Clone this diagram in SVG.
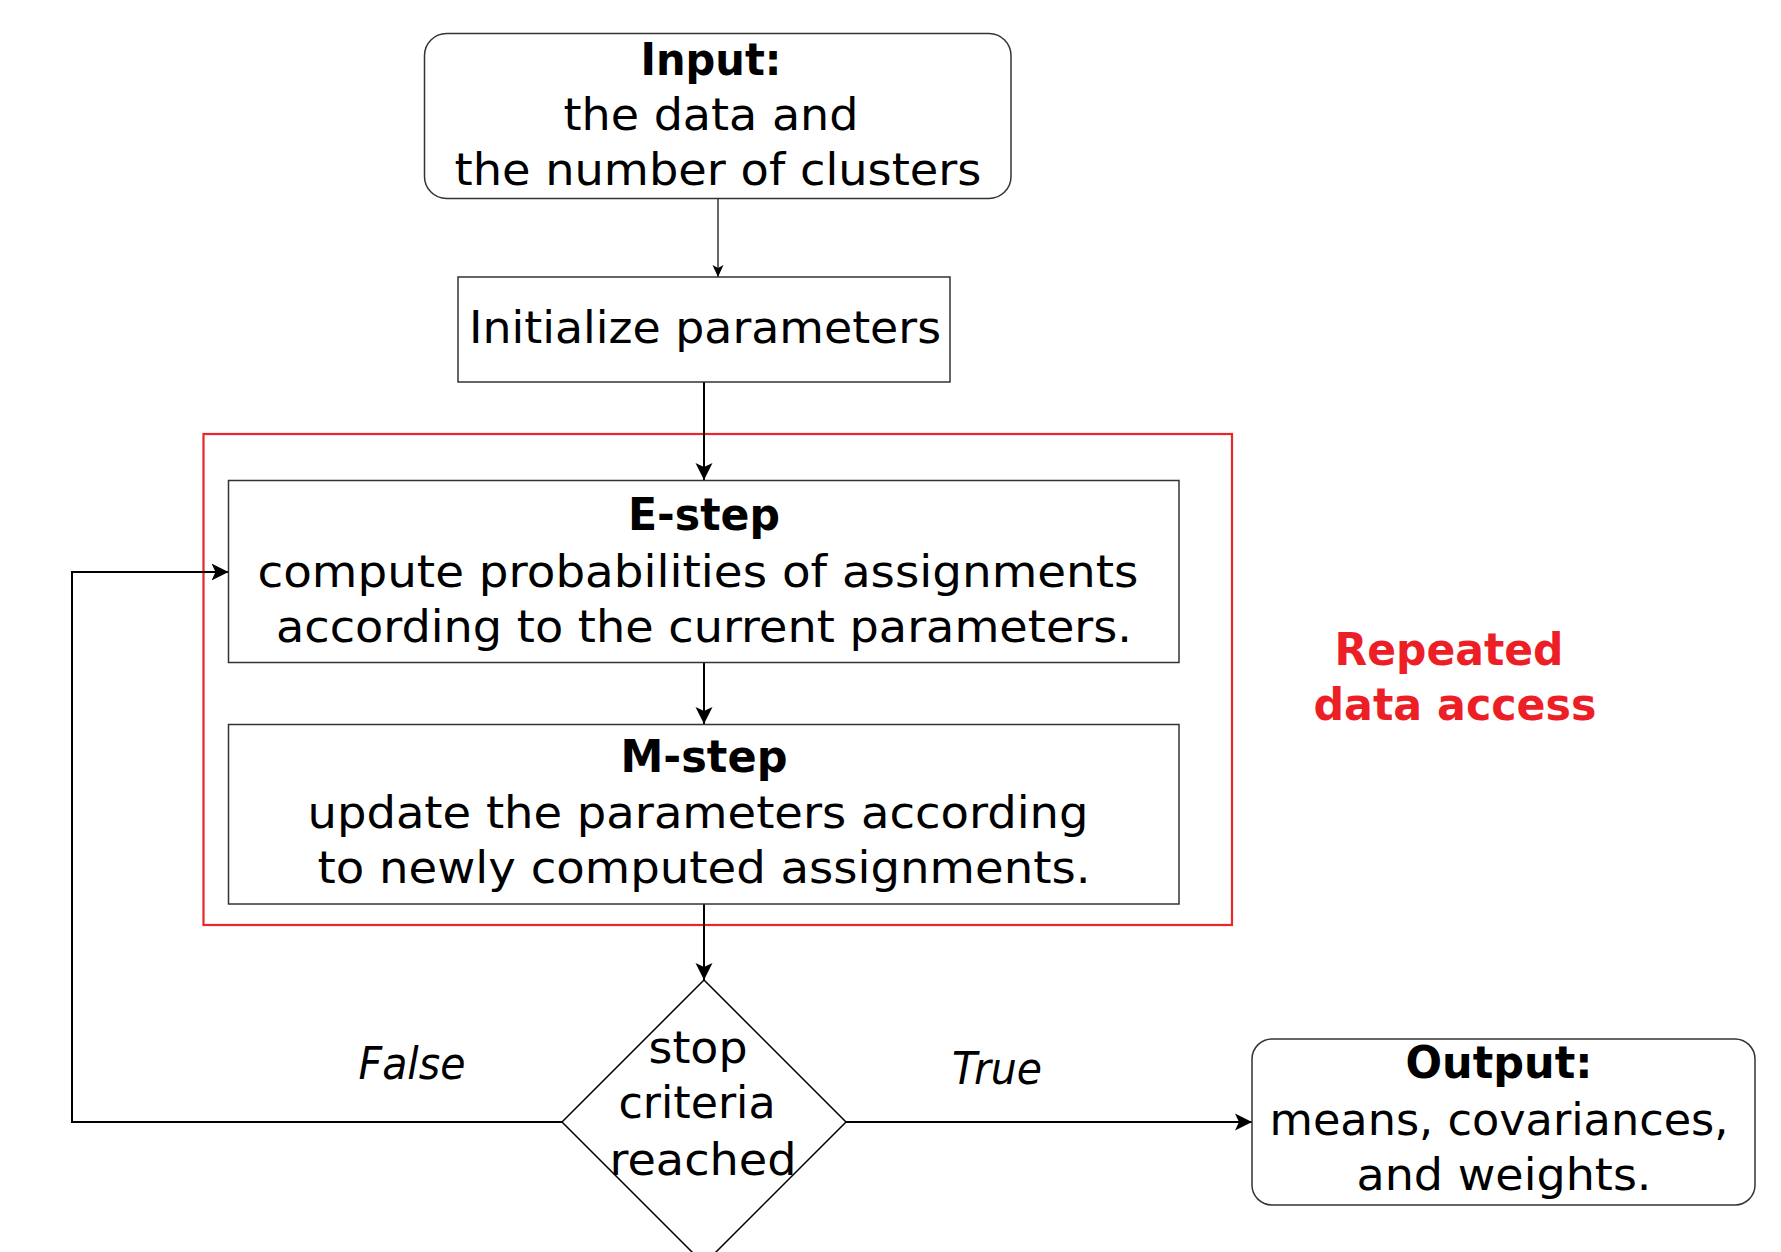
<svg xmlns="http://www.w3.org/2000/svg" width="1781" height="1252" viewBox="0 0 1781 1252">
<style>
  .box { fill: #fff; stroke: #333; stroke-width: 1.5; }
  .t { font-family: "DejaVu Sans", "Liberation Sans", sans-serif; font-size: 44px; fill: #000; text-anchor: middle; }
  .b { font-weight: bold; }
  .i { font-style: italic; }
  .red { fill: #ED1F26; font-weight: bold; }
  .con { fill: none; stroke: #000; stroke-width: 2; }
  .thin { stroke-width: 1.2; }
</style>
<defs>
  <marker id="arrow" viewBox="0 0 20 20" markerWidth="20" markerHeight="20" refX="17" refY="10" orient="auto" markerUnits="userSpaceOnUse">
    <path d="M0,1.5 L17,10 L0,18.5 L4,10 Z" fill="#000"/>
  </marker>
  <marker id="arrowS" viewBox="0 0 14 14" markerWidth="14" markerHeight="14" refX="12" refY="7" orient="auto" markerUnits="userSpaceOnUse">
    <path d="M0,1.5 L12,7 L0,12.5 L3,7 Z" fill="#000"/>
  </marker>
</defs>
<rect width="1781" height="1252" fill="#fff"/>

<g id="repeat-region">
  <rect x="203.5" y="434" width="1028.5" height="491" fill="none" stroke="#E8262C" stroke-width="2.2"/>
  <text class="t red" x="1449" y="665" textLength="229" lengthAdjust="spacingAndGlyphs">Repeated</text>
  <text class="t red" x="1455" y="720" textLength="283" lengthAdjust="spacingAndGlyphs">data access</text>
</g>

<g id="connectors">
  <path class="con thin" d="M718,198.5 L718,277" marker-end="url(#arrowS)"/>
  <path class="con" d="M704,382 L704,480" marker-end="url(#arrow)"/>
  <path class="con" d="M704,663 L704,724" marker-end="url(#arrow)"/>
  <path class="con" d="M704,904 L704,980" marker-end="url(#arrow)"/>
  <path class="con" d="M562,1122 L72,1122 L72,572 L228.5,572" marker-end="url(#arrow)"/>
  <path class="con" d="M846,1122 L1252,1122" marker-end="url(#arrow)"/>
  <text class="t i" x="412" y="1079" textLength="107" lengthAdjust="spacingAndGlyphs">False</text>
  <text class="t i" x="997" y="1084" textLength="90" lengthAdjust="spacingAndGlyphs">True</text>
</g>

<g id="input">
  <rect class="box" x="424.5" y="33.5" width="586.5" height="165" rx="22" ry="22"/>
  <text class="t b" x="711" y="75" textLength="141" lengthAdjust="spacingAndGlyphs">Input:</text>
  <text class="t" x="711" y="130" textLength="295" lengthAdjust="spacingAndGlyphs">the data and</text>
  <text class="t" x="718" y="185" textLength="527" lengthAdjust="spacingAndGlyphs">the number of clusters</text>
</g>

<g id="init">
  <rect class="box" x="458" y="277" width="492" height="105"/>
  <text class="t" x="705" y="343" textLength="472" lengthAdjust="spacingAndGlyphs">Initialize parameters</text>
</g>

<g id="estep">
  <rect class="box" x="228.5" y="480.5" width="950.5" height="182"/>
  <text class="t b" x="704" y="530" textLength="152" lengthAdjust="spacingAndGlyphs">E-step</text>
  <text class="t" x="698" y="587" textLength="881" lengthAdjust="spacingAndGlyphs">compute probabilities of assignments</text>
  <text class="t" x="704" y="642" textLength="856" lengthAdjust="spacingAndGlyphs">according to the current parameters.</text>
</g>

<g id="mstep">
  <rect class="box" x="228.5" y="724.5" width="950.5" height="179.5"/>
  <text class="t b" x="704" y="772" textLength="167" lengthAdjust="spacingAndGlyphs">M-step</text>
  <text class="t" x="698" y="828" textLength="781" lengthAdjust="spacingAndGlyphs">update the parameters according</text>
  <text class="t" x="704" y="883" textLength="773" lengthAdjust="spacingAndGlyphs">to newly computed assignments.</text>
</g>

<g id="decision">
  <path d="M704,980 L846,1122 L704,1264 L562,1122 Z" fill="#fff" stroke="#000" stroke-width="1.5"/>
  <text class="t" x="698" y="1063" textLength="99" lengthAdjust="spacingAndGlyphs">stop</text>
  <text class="t" x="697" y="1118" textLength="157" lengthAdjust="spacingAndGlyphs">criteria</text>
  <text class="t" x="703" y="1175" textLength="187" lengthAdjust="spacingAndGlyphs">reached</text>
</g>

<g id="output">
  <rect class="box" x="1252" y="1039" width="503" height="166" rx="20" ry="20"/>
  <text class="t b" x="1499" y="1078" textLength="187" lengthAdjust="spacingAndGlyphs">Output:</text>
  <text class="t" x="1499" y="1135" textLength="459" lengthAdjust="spacingAndGlyphs">means, covariances,</text>
  <text class="t" x="1504" y="1190" textLength="295" lengthAdjust="spacingAndGlyphs">and weights.</text>
</g>
</svg>
